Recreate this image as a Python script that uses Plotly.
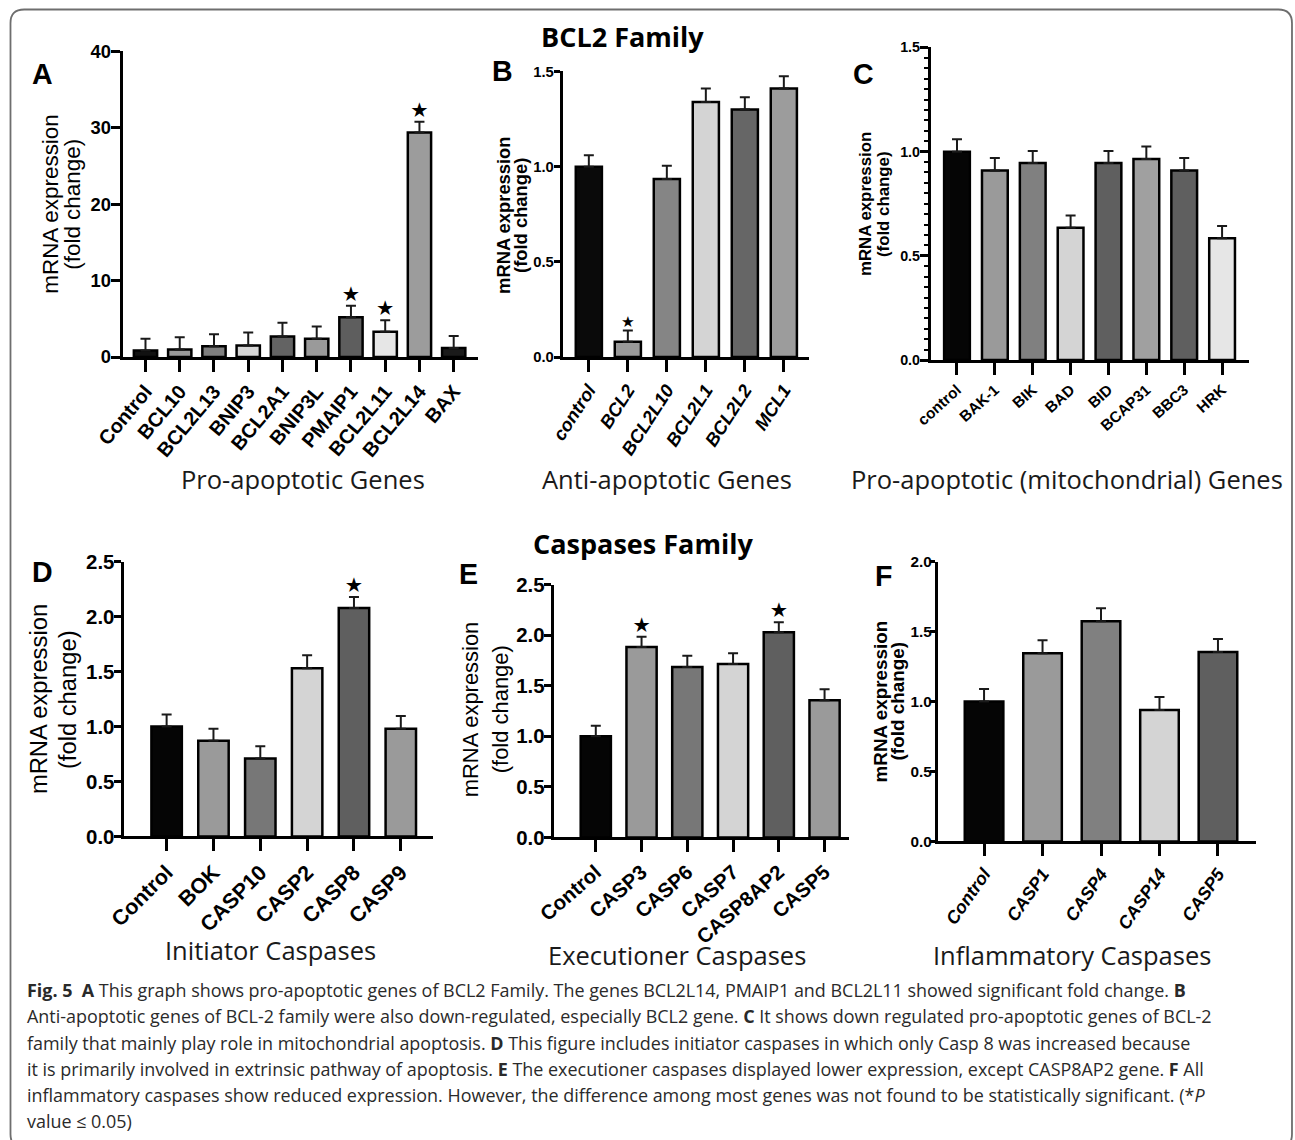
import plotly.graph_objects as go

# ---------------- data ----------------
a_genes = ["Control", "BCL10", "BCL2L13", "BNIP3", "BCL2A1", "BNIP3L", "PMAIP1", "BCL2L11", "BCL2L14", "BAX"]
a_values = [0.85, 1.0, 1.4, 1.5, 2.7, 2.4, 5.2, 3.3, 29.4, 1.2]
a_errors = [1.55, 1.6, 1.6, 1.7, 1.8, 1.6, 1.5, 1.5, 1.4, 1.57]
a_sig = ["PMAIP1", "BCL2L11", "BCL2L14"]

b_genes = ["control", "BCL2", "BCL2L10", "BCL2L1", "BCL2L2", "MCL1"]
b_values = [1.0, 0.08, 0.935, 1.34, 1.30, 1.41]
b_errors = [0.06, 0.06, 0.07, 0.07, 0.065, 0.065]
b_sig = ["BCL2"]

c_genes = ["control", "BAK-1", "BIK", "BAD", "BID", "BCAP31", "BBC3", "HRK"]
c_values = [1.0, 0.91, 0.945, 0.635, 0.945, 0.965, 0.91, 0.585]
c_errors = [0.06, 0.06, 0.058, 0.058, 0.058, 0.06, 0.06, 0.058]
c_sig = []

d_genes = ["Control", "BOK", "CASP10", "CASP2", "CASP8", "CASP9"]
d_values = [1.0, 0.87, 0.71, 1.53, 2.08, 0.98]
d_errors = [0.11, 0.11, 0.11, 0.12, 0.10, 0.115]
d_sig = ["CASP8"]

e_genes = ["Control", "CASP3", "CASP6", "CASP7", "CASP8AP2", "CASP5"]
e_values = [1.0, 1.885, 1.685, 1.716, 2.03, 1.357]
e_errors = [0.105, 0.10, 0.113, 0.105, 0.10, 0.108]
e_sig = ["CASP3", "CASP8AP2"]

f_genes = ["Control", "CASP1", "CASP4", "CASP14", "CASP5"]
f_values = [1.0, 1.345, 1.575, 0.94, 1.355]
f_errors = [0.09, 0.093, 0.093, 0.093, 0.093]
f_sig = []

group_titles = ["Pro-apoptotic Genes", "Anti-apoptotic Genes", "Pro-apoptotic (mitochondrial) Genes",
                "Initiator Caspases", "Executioner Caspases", "Inflammatory Caspases"]
panel_letters = ["A", "B", "C", "D", "E", "F"]
section_titles = ["BCL2 Family", "Caspases Family"]
y_title_lines = ["mRNA expression", "(fold change)"]

caption_lines = [
    "<b>Fig. 5</b>  <b>A</b> This graph shows pro-apoptotic genes of BCL2 Family. The genes BCL2L14, PMAIP1 and BCL2L11 showed significant fold change. <b>B</b>",
    "Anti-apoptotic genes of BCL-2 family were also down-regulated, especially BCL2 gene. <b>C</b> It shows down regulated pro-apoptotic genes of BCL-2",
    "family that mainly play role in mitochondrial apoptosis. <b>D</b> This figure includes initiator caspases in which only Casp 8 was increased because",
    "it is primarily involved in extrinsic pathway of apoptosis. <b>E</b> The executioner caspases displayed lower expression, except CASP8AP2 gene. <b>F</b> All",
    "inflammatory caspases show reduced expression. However, the difference among most genes was not found to be statistically significant. (*<i>P</i>",
    "value \u2264 0.05)",
]

# ---------------- styles ----------------
W, H = 1295, 1140
SX, OX, SY, OY = 0.978, 27.5, 0.982, 11.5   # observed placement of the page in the photograph
K = 1 / 0.98
ARIAL = "Liberation Sans, Arial, sans-serif"
SANS = "Open Sans, Noto Sans, sans-serif"

def fx(p):
    return ((p - OX) / SX) / W

def fy(p):
    return 1 - ((p - OY) / SY) / H

def fs(v):
    return round(v * K, 2)

panels = [
    dict(genes=a_genes, values=a_values, errors=a_errors, sig=a_sig,
         colors=["#111111", "#9a9a9a", "#7f7f7f", "#d6d6d6", "#636363", "#9a9a9a", "#5e5e5e", "#e6e6e6", "#9c9c9c", "#1a1a1a"],
         xd=(122, 477), yd=(52, 358), yr=(0, 40), dtick=10, fmt="d", xr=(-0.67, 9.7), bw=0.68,
         ytf=dict(family=ARIAL, size=fs(18), weight="bold"), xtf=dict(family=ARIAL, size=fs(19.5), weight="bold"),
         angle=-50, star=fs(20), ylen=9, stand=-4, minor=False),
    dict(genes=b_genes, values=b_values, errors=b_errors, sig=b_sig,
         colors=["#0a0a0a", "#9a9a9a", "#858585", "#d4d4d4", "#666666", "#9c9c9c"],
         xd=(562, 808), yd=(72, 358), yr=(0, 1.5), dtick=0.5, fmt=".1f", xr=(-0.67, 5.64), bw=0.67,
         ytf=dict(family=ARIAL, size=fs(14.5), weight="bold"),
         xtf=dict(family=ARIAL, size=fs(18), weight="bold", style="italic"),
         angle=-57, star=fs(15), ylen=6, stand=-3, minor=False),
    dict(genes=c_genes, values=c_values, errors=c_errors, sig=c_sig,
         colors=["#050505", "#9a9a9a", "#808080", "#d4d4d4", "#5f5f5f", "#a0a0a0", "#5f5f5f", "#e6e6e6"],
         xd=(930, 1248), yd=(48, 361), yr=(0, 1.5), dtick=0.5, fmt=".1f", xr=(-0.69, 7.71), bw=0.68,
         ytf=dict(family=ARIAL, size=fs(14), weight="bold"), xtf=dict(family=ARIAL, size=fs(15), weight="bold"),
         angle=-42, star=fs(15), ylen=8, stand=-3, minor=True),
    dict(genes=d_genes, values=d_values, errors=d_errors, sig=d_sig,
         colors=["#050505", "#9a9a9a", "#777777", "#d4d4d4", "#5f5f5f", "#9a9a9a"],
         xd=(123, 432), yd=(563, 838), yr=(0, 2.5), dtick=0.5, fmt=".1f", xr=(-0.92, 5.68), bw=0.65,
         ytf=dict(family=ARIAL, size=fs(20), weight="bold"), xtf=dict(family=ARIAL, size=fs(21), weight="bold"),
         angle=-45, star=fs(20), ylen=7, stand=-5, minor=False),
    dict(genes=e_genes, values=e_values, errors=e_errors, sig=e_sig,
         colors=["#050505", "#9a9a9a", "#777777", "#d4d4d4", "#5f5f5f", "#9a9a9a"],
         xd=(553, 848), yd=(586, 839), yr=(0, 2.5), dtick=0.5, fmt=".1f", xr=(-0.92, 5.53), bw=0.66,
         ytf=dict(family=ARIAL, size=fs(20), weight="bold"), xtf=dict(family=ARIAL, size=fs(20), weight="bold"),
         angle=-41, star=fs(20), ylen=7, stand=-5, minor=False),
    dict(genes=f_genes, values=f_values, errors=f_errors, sig=f_sig,
         colors=["#050505", "#9a9a9a", "#808080", "#d4d4d4", "#5f5f5f"],
         xd=(937, 1255), yd=(563, 843), yr=(0, 2.0), dtick=0.5, fmt=".1f", xr=(-0.79, 4.65), bw=0.66,
         ytf=dict(family=ARIAL, size=fs(15), weight="bold"),
         xtf=dict(family=ARIAL, size=fs(17.5), weight="bold", style="italic"),
         angle=-55, star=fs(15), ylen=5, stand=-5, minor=False),
]

# positions of texts (reference pixels)
letter_pos = [(42, 75), (502, 72), (863, 75), (42, 573), (468, 575), (883, 577)]
group_pos = [(302, 480), (666, 480), (1066, 480), (270, 952), (676, 957), (1071, 957)]
section_pos = [(622, 37), (642, 545)]
ytitle_pos = [  # (x line1, x line2, y center, size, weight)
    (50, 72, 205, 22, "normal"),
    (503, 520, 216, 18, "bold"),
    (864, 882, 205, 16.5, "bold"),
    (38, 67, 701, 23.3, "normal"),
    (470, 500, 711, 21.5, "normal"),
    (880, 897, 703, 18.5, "bold"),
]
caption_x = 25
caption_y0 = 992
caption_dy = 26.2

fig = go.Figure()
layout = dict(width=W, height=H, autosize=False, margin=dict(l=0, r=0, t=0, b=0),
              paper_bgcolor="white", plot_bgcolor="white", showlegend=False)

for i, p in enumerate(panels):
    n = i + 1
    xa = "x" if n == 1 else f"x{n}"
    ya = "y" if n == 1 else f"y{n}"
    fig.add_trace(go.Bar(
        x=p["genes"], y=p["values"], xaxis=xa, yaxis=ya, width=p["bw"],
        marker=dict(color=p["colors"], line=dict(color="black", width=2.5)),
        error_y=dict(type="data", symmetric=False, array=p["errors"],
                     arrayminus=[0] * len(p["errors"]), color="#1a1a1a", thickness=2, width=5),
        cliponaxis=False, hoverinfo="skip"))
    if p["sig"]:
        sx, sy = [], []
        for g, v, e in zip(p["genes"], p["values"], p["errors"]):
            if g in p["sig"]:
                sx.append(g)
                sy.append(v + e)
        fig.add_trace(go.Scatter(
            x=sx, y=sy, xaxis=xa, yaxis=ya, mode="text", text=["\u2605"] * len(sx),
            textposition="top center", cliponaxis=False,
            textfont=dict(family="DejaVu Sans", size=p["star"], color="black"), hoverinfo="skip"))
    xkey = "xaxis" if n == 1 else f"xaxis{n}"
    ykey = "yaxis" if n == 1 else f"yaxis{n}"
    layout[xkey] = dict(
        domain=[fx(p["xd"][0]), fx(p["xd"][1])], anchor=ya, type="category",
        range=list(p["xr"]), showline=True, linewidth=3, linecolor="black",
        ticks="outside", ticklen=12, tickwidth=2.5, tickcolor="black",
        tickangle=p["angle"], tickfont=dict(color="black", **p["xtf"]),
        showgrid=False, zeroline=False, fixedrange=True)
    yax = dict(
        domain=[fy(p["yd"][1]), fy(p["yd"][0])], anchor=xa,
        range=list(p["yr"]), dtick=p["dtick"], tick0=0, tickformat=p["fmt"],
        showline=True, linewidth=3, linecolor="black",
        ticks="outside", ticklen=p["ylen"], tickwidth=2.5, tickcolor="black",
        ticklabelstandoff=p["stand"],
        tickfont=dict(color="black", **p["ytf"]),
        showgrid=False, zeroline=False, fixedrange=True)
    if p["minor"]:
        yax["minor"] = dict(dtick=0.05, ticks="outside", ticklen=4, tickwidth=2, tickcolor="black", showgrid=False)
    layout[ykey] = yax

ann = []
for (x, y), t in zip(letter_pos, panel_letters):
    ann.append(dict(x=fx(x), y=fy(y), xref="paper", yref="paper", text=f"<b>{t}</b>", showarrow=False,
                    xanchor="center", yanchor="middle", font=dict(family=ARIAL, size=fs(28), color="black")))
for (x, y), t in zip(group_pos, group_titles):
    ann.append(dict(x=fx(x), y=fy(y), xref="paper", yref="paper", text=t, showarrow=False,
                    xanchor="center", yanchor="middle", font=dict(family=SANS, size=fs(25), color="#1a1a1a")))
for (x, y), t in zip(section_pos, section_titles):
    ann.append(dict(x=fx(x), y=fy(y), xref="paper", yref="paper", text=f"<b>{t}</b>", showarrow=False,
                    xanchor="center", yanchor="middle", font=dict(family=SANS, size=fs(26.5), color="black")))
for (x1, x2, yc, sz, wt) in ytitle_pos:
    for xx, t in zip((x1, x2), y_title_lines):
        ann.append(dict(x=fx(xx), y=fy(yc), xref="paper", yref="paper", text=t, showarrow=False,
                        textangle=-90, xanchor="center", yanchor="middle",
                        font=dict(family=ARIAL, size=fs(sz), color="black", weight=wt)))
for k, t in enumerate(caption_lines):
    ann.append(dict(x=fx(caption_x), y=fy(caption_y0 + k * caption_dy), xref="paper", yref="paper",
                    text=t, showarrow=False, xanchor="left", yanchor="middle",
                    font=dict(family=SANS, size=fs(17.6), color="#2a2a2a")))
layout["annotations"] = ann

# rounded frame
x0, x1, y0, y1 = fx(10), fx(1291), fy(10), fy(1150)
rx, ry = 14 / W, 14 / H
path = (f"M {x0+rx},{y0} L {x1-rx},{y0} Q {x1},{y0} {x1},{y0-ry} L {x1},{y1+ry} "
        f"Q {x1},{y1} {x1-rx},{y1} L {x0+rx},{y1} Q {x0},{y1} {x0},{y1+ry} "
        f"L {x0},{y0-ry} Q {x0},{y0} {x0+rx},{y0} Z")
layout["shapes"] = [dict(type="path", xref="paper", yref="paper", path=path,
                         line=dict(color="#6e6e6e", width=1.8), layer="below")]

fig.update_layout(**layout)
fig.write_html("out.html", config={"displayModeBar": False},
               post_script="document.body.style.margin='0';document.body.style.padding='0';"
                           "document.body.style.overflow='hidden';")
